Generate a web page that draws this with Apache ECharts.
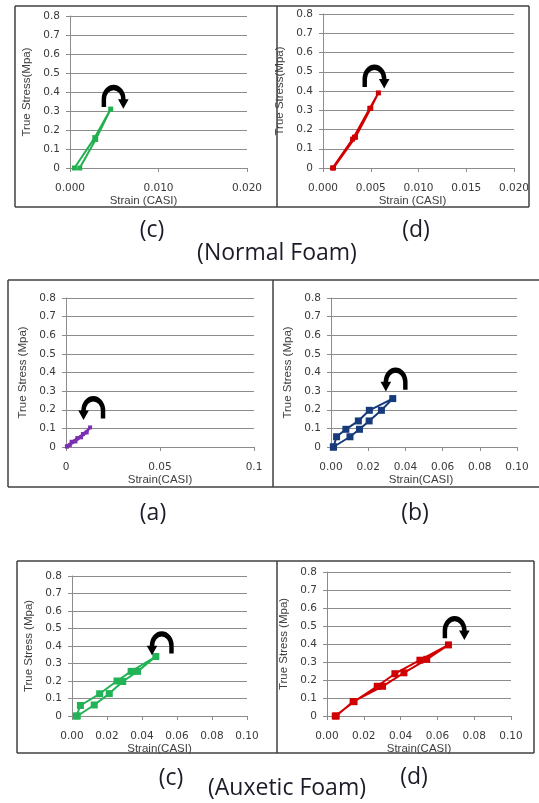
<!DOCTYPE html>
<html>
<head>
<meta charset="utf-8">
<script src="https://cdn.jsdelivr.net/npm/echarts@6/dist/echarts.min.js"></script>
<style>
  html, body { margin: 0; padding: 0; background: #fff; }
  #chart { width: 539px; height: 803px; }
</style>
</head>
<body>
<div id="chart"></div>
<script>
// y ticks shared by all panels
const stressTicks = [0, 0.1, 0.2, 0.3, 0.4, 0.5, 0.6, 0.7, 0.8]

// normal foam (c)
const normCStrain = [0.0005, 0.0028, 0.0046, 0.0029, 0.0011]
const normCStress = [0, 0.16, 0.31, 0.15, 0]
// normal foam (d)
const normDStrain = [0.0010, 0.0031, 0.0033, 0.0049, 0.0058, 0.0050, 0.0034, 0.0011]
const normDStress = [0, 0.15, 0.16, 0.31, 0.39, 0.31, 0.16, 0]
// (a)
const aStrain = [0.0005, 0.0030, 0.0060, 0.0090, 0.0128, 0.0110, 0.0080, 0.0050, 0.0020, 0.0005]
const aStress = [0.003, 0.028, 0.048, 0.070, 0.105, 0.078, 0.052, 0.030, 0.010, 0.003]
// (b)
const bStrain = [0.0013, 0.0030, 0.0080, 0.0147, 0.0206, 0.0332, 0.0271, 0.0205, 0.0153, 0.0102, 0.0013]
const bStress = [0, 0.055, 0.095, 0.14, 0.197, 0.26, 0.197, 0.14, 0.095, 0.055, 0]
// auxetic foam (c)
const auxCStrain = [0.0025, 0.0048, 0.0158, 0.0257, 0.0338, 0.0479, 0.0375, 0.0290, 0.0213, 0.0127, 0.0030]
const auxCStress = [0, 0.06, 0.127, 0.2, 0.255, 0.34, 0.255, 0.197, 0.128, 0.063, 0]
// auxetic foam (d)
const auxDStrain = [0.0045, 0.0147, 0.0273, 0.0369, 0.0505, 0.0660, 0.0542, 0.0418, 0.0302, 0.0142, 0.0050]
const auxDStress = [0, 0.08, 0.165, 0.235, 0.31, 0.395, 0.315, 0.24, 0.165, 0.08, 0]

// curved arrow positions (strain, stress) and direction
const arrowPos = [[0.0051, 0.375], [0.00555, 0.475], [0.0137, 0.209], [0.0339, 0.363], [0.0504, 0.416], [0.0702, 0.489]]
const arrowRight = [true, true, false, false, false, true]

const arrowR = 'path://M10 74 L10 55 A35 35 0 0 1 80 55 L89 55 L73.5 78 L58 55 L67 55 A22 22 0 0 0 23 55 L23 74 Z'
const arrowL = 'path://M90 74 L90 55 A35 35 0 0 0 20 55 L11 55 L26.5 78 L42 55 L33 55 A22 22 0 0 1 77 55 L77 74 Z'

const panels = [
  { x: normCStrain, y: normCStress, color: '#22b04f', grid: [70, 16, 177, 152], max: 0.02, step: 0.01, dec: 3, xName: 'Strain (CASI)', yName: 'True Stress(Mpa)', sym: 5, namePad: [0, 30, 0, 0] },
  { x: normDStrain, y: normDStress, color: '#d00000', grid: [323, 14, 191, 154], max: 0.02, step: 0.005, dec: 3, xName: 'Strain (CASI)', yName: 'True Stress(Mpa)', sym: 5, namePad: [0, 12, 0, 0] },
  { x: aStrain, y: aStress, color: '#7a30b0', grid: [66, 298, 188, 149], max: 0.1, step: 0.05, dec: null, xName: 'Strain(CASI)', yName: 'True Stress (Mpa)', sym: 4, namePad: [0, 0, 0, 0] },
  { x: bStrain, y: bStress, color: '#163a7a', grid: [331, 298, 186, 149], max: 0.1, step: 0.02, dec: 2, xName: 'Strain(CASI)', yName: 'True Stress (Mpa)', sym: 7, namePad: [0, 6, 0, 0] },
  { x: auxCStrain, y: auxCStress, color: '#22b356', grid: [72, 576, 175, 140], max: 0.1, step: 0.02, dec: 2, xName: 'Strain(CASI)', yName: 'True Stress (Mpa)', sym: 7, namePad: [0, 0, 0, 0] },
  { x: auxDStrain, y: auxDStress, color: '#d00000', grid: [327, 572, 184, 144], max: 0.1, step: 0.02, dec: 2, xName: 'Strain(CASI)', yName: 'True Stress (Mpa)', sym: 7, namePad: [0, 0, 0, 0] },
]

const tickFont = { fontFamily: 'DejaVu Sans', fontSize: 10.5, color: '#3a3a3a' }
const nameFont = { fontFamily: 'Liberation Sans', fontSize: 11.5, color: '#404040' }
const bigFont = '23px "Open Sans"'

const chart = echarts.init(document.getElementById('chart'))

const grids = panels.map((p) => ({ left: p.grid[0], top: p.grid[1], width: p.grid[2], height: p.grid[3] }))

const xAxes = panels.map((p, i) => ({
  gridIndex: i,
  type: 'value',
  min: 0,
  max: p.max,
  interval: p.step,
  name: p.xName,
  nameLocation: 'middle',
  nameGap: 27,
  nameTextStyle: { ...nameFont, padding: p.namePad },
  axisLine: { lineStyle: { color: '#8c8c8c', width: 1 } },
  axisTick: { show: true, length: 4, lineStyle: { color: '#8c8c8c' } },
  splitLine: { show: false },
  axisLabel: {
    ...tickFont,
    margin: 15,
    formatter: (v) => (p.dec === null ? String(+v.toFixed(2)) : v.toFixed(p.dec)),
  },
}))

const yAxes = panels.map((p, i) => ({
  gridIndex: i,
  type: 'value',
  min: stressTicks[0],
  max: stressTicks[stressTicks.length - 1],
  interval: 0.1,
  name: p.yName,
  nameLocation: 'middle',
  nameGap: 37,
  nameTextStyle: nameFont,
  axisLine: { show: true, lineStyle: { color: '#8c8c8c', width: 1 } },
  axisTick: { show: true, length: 4, lineStyle: { color: '#8c8c8c' } },
  splitLine: { lineStyle: { color: '#8c8c8c', width: 1 } },
  axisLabel: { ...tickFont, margin: 10, formatter: (v) => String(+v.toFixed(1)) },
}))

const series = panels.map((p, i) => ({
  type: 'line',
  xAxisIndex: i,
  yAxisIndex: i,
  data: p.x.map((v, k) => [v, p.y[k]]),
  symbol: 'rect',
  symbolSize: p.sym,
  showSymbol: true,
  lineStyle: { color: p.color, width: 2 },
  itemStyle: { color: p.color },
  markPoint: {
    silent: true,
    symbol: arrowRight[i] ? arrowR : arrowL,
    symbolSize: [27, 24],
    itemStyle: { color: '#000' },
    label: { show: false },
    data: [{ coord: arrowPos[i] }],
  },
  z: 3,
}))

const line = (x1, y1, x2, y2) => ({
  type: 'line',
  shape: { x1, y1, x2, y2 },
  style: { stroke: '#404040', lineWidth: 1.5 },
})

const caption = (text, x, y) => ({
  type: 'text',
  x,
  y,
  style: { text, fill: '#1c1c28', font: bigFont, align: 'center', verticalAlign: 'middle' },
})

const graphic = [
  // panel frames
  line(15, 6, 529, 6), line(15, 207, 529, 207), line(15, 6, 15, 207), line(277, 6, 277, 207), line(529, 6, 529, 207),
  line(8, 280, 539, 280), line(8, 487, 539, 487), line(8, 280, 8, 487), line(273, 280, 273, 487),
  line(17, 561, 534, 561), line(17, 753, 534, 753), line(17, 561, 17, 753), line(277, 561, 277, 753), line(534, 561, 534, 753),
  caption('(c)', 152, 230),
  caption('(d)', 416, 230),
  caption('(Normal Foam)', 277, 253),
  caption('(a)', 153, 513),
  caption('(b)', 415, 513),
  caption('(c)', 171, 778),
  caption('(d)', 414, 777),
  caption('(Auxetic Foam)', 287, 788),
]

chart.setOption({
  animation: false,
  backgroundColor: '#fff',
  grid: grids,
  xAxis: xAxes,
  yAxis: yAxes,
  series,
  graphic,
})

window.addEventListener('resize', () => chart.resize())
</script>
</body>
</html>
